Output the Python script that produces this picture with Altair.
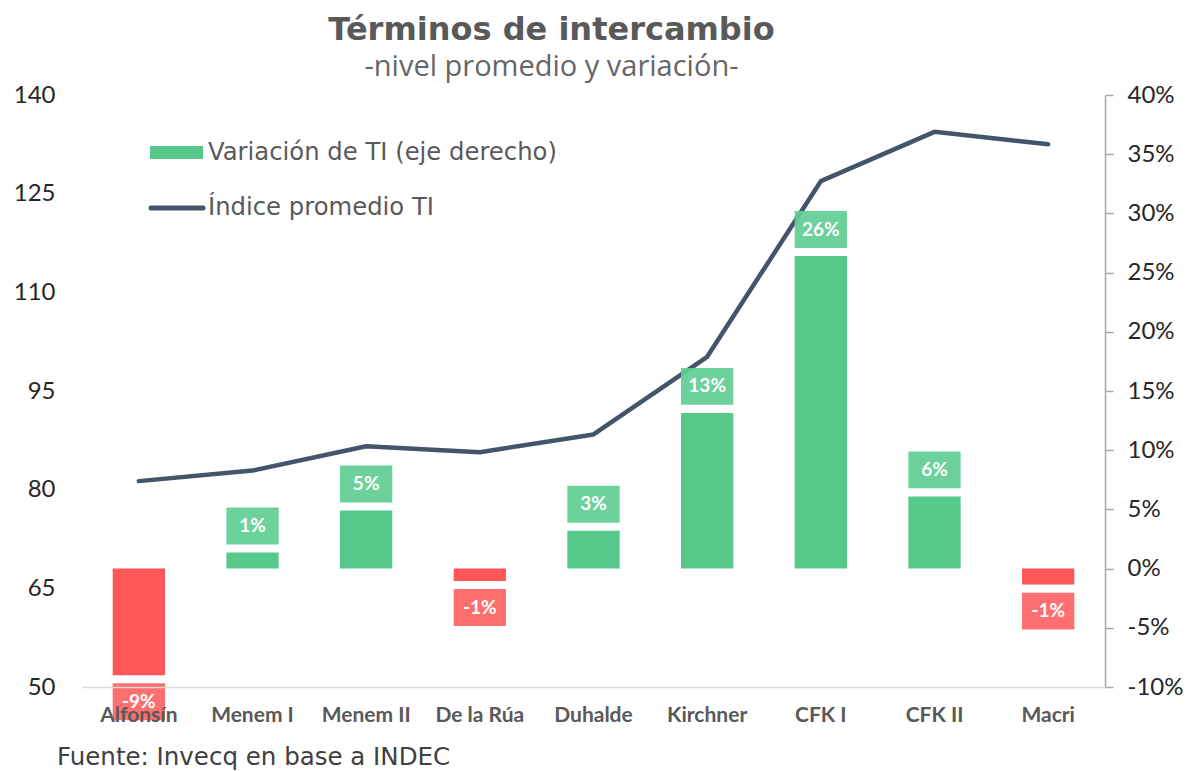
import altair as alt
import pandas as pd

# ---- data ----
categories = ["Alfonsín", "Menem I", "Menem II", "De la Rúa", "Duhalde",
              "Kirchner", "CFK I", "CFK II", "Macri"]
variacion = [-0.090, 0.0135, 0.049, -0.0105, 0.032, 0.1315, 0.264, 0.061, -0.0135]
indice = [81.3, 82.9, 86.6, 85.7, 88.4, 100.2, 126.9, 134.4, 132.5]
left_ticks = [50, 65, 80, 95, 110, 125, 140]
right_ticks = [-0.10, -0.05, 0.0, 0.05, 0.10, 0.15, 0.20, 0.25, 0.30, 0.35, 0.40]
legend_labels = ["Variación de TI (eje derecho)", "Índice promedio TI"]
title_text = "Términos de intercambio"
subtitle_text = "-nivel promedio y variación-"
footer_text = "Fuente: Invecq en base a INDEC"

df = pd.DataFrame({"periodo": categories, "variacion": variacion, "indice": indice})

# ---- styling ----
W, H = 1023, 592
GREEN = "#56C98A"
GREEN_BOX = "#62CD94"
RED = "#FF5757"
RED_BOX = "#FF6464"
NAVY = "#44546A"
GREY = "#595959"
DARK = "#262626"
FONT = "Lato"
WIDE = "DejaVu Sans"

x_enc = alt.X(
    "periodo:N", sort=categories,
    scale=alt.Scale(paddingInner=0.54, paddingOuter=0.27),
    axis=alt.Axis(title=None, labelAngle=0, labelFont=FONT, labelFontWeight="bold",
                  labelFontSize=21, labelColor=GREY, domainColor="#D9D9D9",
                  domainWidth=1.5, ticks=False, labelPadding=17, zindex=1),
)
yr_scale = alt.Scale(domain=[-0.10, 0.40], nice=False, zero=False)
yl_scale = alt.Scale(domain=[50, 140], nice=False, zero=False)

base = alt.Chart(df)

bars = base.mark_bar().encode(
    x=x_enc,
    y=alt.Y("variacion:Q", scale=yr_scale,
            axis=alt.Axis(orient="right", title=None, values=right_ticks, grid=False,
                          labelExpr="(datum.value < 0 ? '-' : '') + format(abs(datum.value), '.0%')",
                          labelFont=FONT, labelFontSize=24, labelColor=DARK,
                          domainColor="#A6A6A6", domainWidth=1.5, tickColor="#A6A6A6",
                          tickWidth=1.5, tickSize=8, labelPadding=14)),
    y2=alt.datum(0),
    color=alt.condition("datum.variacion >= 0", alt.value(GREEN), alt.value(RED)),
)

line = base.mark_line(color=NAVY, strokeWidth=4.5, strokeCap="round", strokeJoin="round").encode(
    x=x_enc,
    y=alt.Y("indice:Q", scale=yl_scale,
            axis=alt.Axis(orient="left", title=None, values=left_ticks, grid=False,
                          domain=False, ticks=False, tickSize=0, labelPadding=27,
                          labelFont=FONT, labelFontSize=24, labelColor=DARK)),
)

labelled = base.transform_calculate(
    box_lo="datum.variacion >= 0 ? datum.variacion + 0.0068 : datum.variacion - 0.0380",
    box_hi="datum.variacion >= 0 ? datum.variacion + 0.0380 : datum.variacion - 0.0068",
    box_mid="datum.variacion >= 0 ? datum.variacion + 0.0224 : datum.variacion - 0.0224",
    etiqueta="(datum.variacion < 0 ? '-' : '') + format(abs(datum.variacion), '.0%')",
)

boxes = labelled.mark_bar(opacity=0.93).encode(
    x=x_enc,
    y=alt.Y("box_lo:Q", scale=yr_scale, axis=None),
    y2="box_hi:Q",
    color=alt.condition("datum.variacion >= 0", alt.value(GREEN_BOX), alt.value(RED_BOX)),
)

box_text = labelled.mark_text(font=FONT, fontWeight="bold", fontSize=19, color="white",
                              baseline="middle", align="center").encode(
    x=x_enc,
    y=alt.Y("box_mid:Q", scale=yr_scale, axis=None),
    text="etiqueta:N",
)

one = alt.Chart(pd.DataFrame({"k": [0]}))
leg_rect = one.mark_rect(color=GREEN).encode(
    x=alt.value(68), x2=alt.value(121), y=alt.value(51), y2=alt.value(64))
leg_line = one.mark_rule(color=NAVY, strokeWidth=5, strokeCap="round").encode(
    x=alt.value(69), x2=alt.value(121), y=alt.value(113))
leg_t1 = one.mark_text(text=legend_labels[0], font=WIDE, fontSize=24.3, color=GREY,
                       align="left", baseline="middle").encode(x=alt.value(126), y=alt.value(58))
leg_t2 = one.mark_text(text=legend_labels[1], font=WIDE, fontSize=24.3, color=GREY,
                       align="left", baseline="middle").encode(x=alt.value(126), y=alt.value(113))
footer = one.mark_text(text=footer_text, font=WIDE, fontSize=24.5, color="#404040",
                       align="left", baseline="alphabetic").encode(x=alt.value(-25), y=alt.value(670))

chart = alt.layer(
    bars, line, boxes, box_text, leg_rect, leg_line, leg_t1, leg_t2, footer
).resolve_scale(y="independent").properties(
    width=W, height=H, background="white",
    title=alt.TitleParams(title_text, subtitle=subtitle_text, anchor="middle", dx=-42,
                          font=WIDE, fontSize=32, fontWeight="bold", color=GREY,
                          subtitleFont="Open Sans", subtitleFontSize=29, subtitleColor="#666666",
                          offset=0, subtitlePadding=6),
    padding={"left": 82, "top": 95, "right": 87, "bottom": 84},
    autosize=alt.AutoSizeParams(type="none"),
).configure_view(stroke=None)

chart.save("out.html", embed_options={"renderer": "svg", "actions": False})
